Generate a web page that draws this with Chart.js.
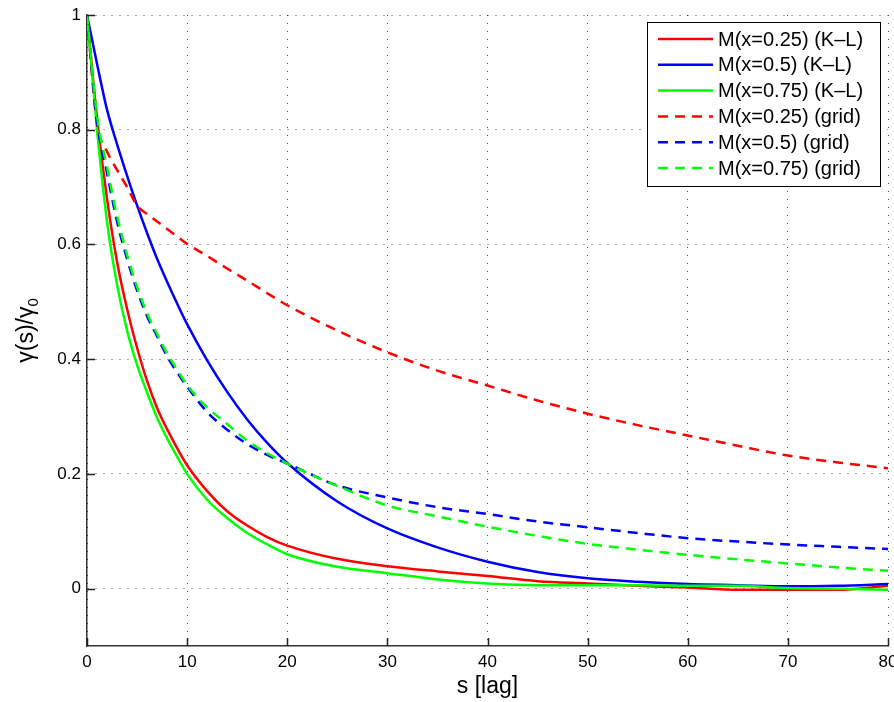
<!DOCTYPE html>
<html>
<head>
<meta charset="utf-8">
<script src="https://cdn.jsdelivr.net/npm/chart.js@4.4.1/dist/chart.umd.min.js"></script>
<style>
    html, body { margin: 0; padding: 0; background: #fff; }
    #wrap { width: 894px; height: 702px; position: relative; }
</style>
</head>
<body>
<div id="wrap"><canvas id="acf-chart"></canvas></div>
<script>
// lag values shared by all curves
const lags = [0, 1, 2, 3, 4, 5, 6, 7, 8, 9, 10, 12, 14, 16, 18, 20, 25, 30, 35, 40, 45, 50, 55, 60, 65, 70, 75, 80];

// K-L estimates
const klM025 = [1.000, 0.820, 0.680, 0.570, 0.488, 0.420, 0.362, 0.315, 0.278, 0.245, 0.215, 0.170, 0.135, 0.110, 0.090, 0.075, 0.052, 0.039, 0.030, 0.022, 0.013, 0.009, 0.005, 0.002, -0.002, -0.002, -0.002, 0.005];
const klM05 = [1.000, 0.915, 0.835, 0.775, 0.720, 0.668, 0.620, 0.575, 0.535, 0.497, 0.461, 0.398, 0.343, 0.295, 0.254, 0.219, 0.152, 0.105, 0.072, 0.047, 0.029, 0.018, 0.012, 0.008, 0.006, 0.004, 0.005, 0.008];
const klM075 = [1.000, 0.800, 0.640, 0.530, 0.450, 0.390, 0.342, 0.298, 0.262, 0.230, 0.200, 0.155, 0.123, 0.097, 0.077, 0.060, 0.038, 0.027, 0.016, 0.009, 0.006, 0.006, 0.006, 0.005, 0.005, 0.001, 0.000, -0.002];

// grid estimates
const gridM025 = [1.000, 0.810, 0.762, 0.730, 0.700, 0.668, 0.653, 0.640, 0.627, 0.614, 0.601, 0.580, 0.558, 0.537, 0.515, 0.494, 0.450, 0.412, 0.380, 0.354, 0.328, 0.305, 0.285, 0.267, 0.249, 0.232, 0.220, 0.210];
const gridM05 = [1.000, 0.815, 0.725, 0.640, 0.575, 0.520, 0.475, 0.440, 0.405, 0.377, 0.352, 0.308, 0.277, 0.252, 0.233, 0.218, 0.180, 0.159, 0.142, 0.130, 0.117, 0.107, 0.097, 0.088, 0.082, 0.077, 0.073, 0.069];
const gridM075 = [1.000, 0.825, 0.735, 0.650, 0.582, 0.526, 0.480, 0.444, 0.410, 0.382, 0.355, 0.316, 0.287, 0.258, 0.236, 0.218, 0.179, 0.145, 0.126, 0.108, 0.092, 0.078, 0.068, 0.059, 0.051, 0.044, 0.037, 0.031];

const seriesLabels = [
    'M(x=0.25) (K\u2013L)', 'M(x=0.5) (K\u2013L)', 'M(x=0.75) (K\u2013L)',
    'M(x=0.25) (grid)', 'M(x=0.5) (grid)', 'M(x=0.75) (grid)'
];

const xTicks = [0, 10, 20, 30, 40, 50, 60, 70, 80];
const yTicks = [0, 0.2, 0.4, 0.6, 0.8, 1];

const FONT = "'Liberation Sans', Arial, Helvetica, sans-serif";
const DASH = [10, 7];

function toPoints(values) {
    return lags.map((s, i) => ({ x: s, y: values[i] }));
}

function makeSet(i, values, color, dashed) {
    return {
        label: seriesLabels[i],
        data: toPoints(values),
        borderColor: color,
        backgroundColor: color,
        borderWidth: 2.5,
        borderDash: dashed ? DASH : [],
        pointRadius: 0,
        cubicInterpolationMode: 'monotone',
        fill: false,
        order: 6 - i // later series on top, like the original
    };
}

// inward tick marks on the left and bottom axes
const tickMarks = {
    id: 'tickMarks',
    afterDatasetsDraw(chart) {
        const { ctx, chartArea, scales } = chart;
        ctx.save();
        ctx.strokeStyle = '#222';
        ctx.lineWidth = 1.5;
        ctx.beginPath();
        yTicks.forEach((v) => {
            const y = Math.round(scales.y.getPixelForValue(v)) + 0.5;
            ctx.moveTo(chartArea.left, y);
            ctx.lineTo(chartArea.left + 8, y);
        });
        xTicks.forEach((v) => {
            const x = Math.round(scales.x.getPixelForValue(v)) + 0.5;
            ctx.moveTo(x, chartArea.bottom);
            ctx.lineTo(x, chartArea.bottom - 8);
        });
        ctx.stroke();
        ctx.restore();
    }
};

// axis titles (y title needs a subscript)
const axisTitles = {
    id: 'axisTitles',
    afterDraw(chart) {
        const { ctx, chartArea } = chart;
        ctx.save();
        ctx.fillStyle = '#000';
        ctx.font = '23px ' + FONT;
        ctx.textAlign = 'center';
        ctx.textBaseline = 'alphabetic';
        ctx.fillText('s [lag]', (chartArea.left + chartArea.right) / 2, 693);

        const main = '\u03b3(s)/\u03b3';
        const wMain = ctx.measureText(main).width;
        ctx.font = '15px ' + FONT;
        const wSub = ctx.measureText('0').width;
        ctx.translate(33, (chartArea.top + chartArea.bottom) / 2);
        ctx.rotate(-Math.PI / 2);
        ctx.textAlign = 'left';
        const start = -(wMain + wSub) / 2;
        ctx.font = '23px ' + FONT;
        ctx.fillText(main, start, 0);
        ctx.font = '15px ' + FONT;
        ctx.fillText('0', start + wMain, 5);
        ctx.restore();
    }
};

// boxed legend in the upper right corner of the axes
const boxLegend = {
    id: 'boxLegend',
    afterDraw(chart) {
        const { ctx, chartArea } = chart;
        const sets = chart.data.datasets;
        const right = chartArea.right - 8;
        const left = right - 233;
        const top = chartArea.top + 7;
        const rowH = 25.8;
        const height = 164;
        ctx.save();
        ctx.fillStyle = '#fff';
        ctx.fillRect(left, top, right - left, height);
        ctx.strokeStyle = '#000';
        ctx.lineWidth = 1;
        ctx.strokeRect(Math.round(left) + 0.5, Math.round(top) + 0.5, right - left, height);
        ctx.font = '20px ' + FONT;
        ctx.textBaseline = 'middle';
        ctx.textAlign = 'left';
        sets.forEach((ds, i) => {
            const y = top + 17 + i * rowH;
            ctx.strokeStyle = ds.borderColor;
            ctx.lineWidth = 2.5;
            ctx.setLineDash(ds.borderDash);
            ctx.beginPath();
            ctx.moveTo(left + 11, y);
            ctx.lineTo(left + 66, y);
            ctx.stroke();
            ctx.setLineDash([]);
            ctx.fillStyle = '#000';
            ctx.fillText(ds.label, left + 71, y + 1);
        });
        ctx.restore();
    }
};

function zeroPadding(scale) {
    scale.paddingLeft = 0;
    scale.paddingRight = 0;
    scale.paddingTop = 0;
    scale.paddingBottom = 0;
}

const ctx = document.getElementById('acf-chart').getContext('2d');
new Chart(ctx, {
    type: 'line',
    data: {
        datasets: [
            makeSet(0, klM025, '#ff0000', false),
            makeSet(1, klM05, '#0000ff', false),
            makeSet(2, klM075, '#00ff00', false),
            makeSet(3, gridM025, '#ff0000', true),
            makeSet(4, gridM05, '#0000ff', true),
            makeSet(5, gridM075, '#00ff00', true)
        ]
    },
    options: {
        responsive: true,
        maintainAspectRatio: false,
        animation: false,
        layout: { padding: { top: 15, right: 6, left: 0, bottom: 0 } },
        plugins: {
            legend: { display: false },
            tooltip: { enabled: false }
        },
        scales: {
            x: {
                type: 'linear',
                min: 0,
                max: 80,
                afterBuildTicks: (axis) => { axis.ticks = xTicks.map((v) => ({ value: v })); },
                afterFit: (scale) => { scale.height = 56; zeroPadding(scale); },
                ticks: {
                    color: '#000',
                    padding: 6,
                    maxRotation: 0,
                    autoSkip: false,
                    font: { family: FONT, size: 17 }
                },
                grid: { color: 'rgba(0,0,0,0.7)', lineWidth: 1, drawTicks: false },
                border: { display: true, color: '#333', width: 1.5, dash: [1, 7] }
            },
            y: {
                type: 'linear',
                min: -0.1,
                max: 1,
                afterBuildTicks: (axis) => { axis.ticks = yTicks.map((v) => ({ value: v })); },
                afterFit: (scale) => { scale.width = 87; zeroPadding(scale); },
                ticks: {
                    color: '#000',
                    padding: 6,
                    autoSkip: false,
                    font: { family: FONT, size: 17 },
                    callback: (v) => String(Number(v.toFixed(1)))
                },
                grid: { color: 'rgba(0,0,0,0.7)', lineWidth: 1, drawTicks: false },
                border: { display: true, color: '#333', width: 1.5, dash: [1, 7] }
            }
        }
    },
    plugins: [tickMarks, axisTitles, boxLegend]
});
</script>
</body>
</html>
